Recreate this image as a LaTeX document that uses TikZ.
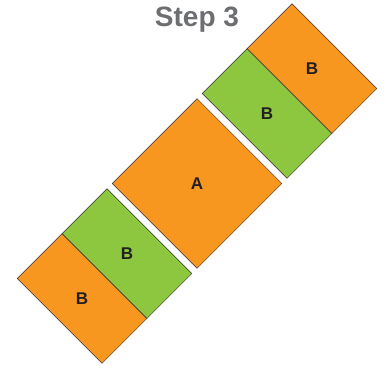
\documentclass[tikz,border=0pt]{standalone}
\usepackage{fontspec}
\setmainfont{Liberation Sans}
\usepackage{tikz}

\definecolor{blockorange}{HTML}{F7971F}
\definecolor{blockgreen}{HTML}{8DC63F}
\definecolor{titlegray}{HTML}{6D6E71}
\definecolor{labeldark}{HTML}{231F20}

\begin{document}
\begin{tikzpicture}[
  x=1pt, y=1pt,
  piece/.style={draw=black!80, line width=0.5pt},
  orangepiece/.style={piece, fill=blockorange},
  greenpiece/.style={piece, fill=blockgreen},
  lbl/.style={font=\bfseries\fontsize{17}{17}\selectfont, text=labeldark},
  heading/.style={font=\bfseries\fontsize{28}{28}\selectfont, text=titlegray, anchor=base}
]
\useasboundingbox (0,0) rectangle (390,365);
\node[heading] (title) at (197,338.5) {Step 3};

\begin{scope}[shift={(197,181.5)}, rotate=45]
  % lower pair
  \draw[orangepiece] (-194.3,-60) rectangle (-130.8,60);
  \draw[greenpiece]  (-130.8,-60) rectangle (-67.3,60);
  % middle square
  \draw[orangepiece] (-60,-60) rectangle (60,60);
  % upper pair
  \draw[greenpiece]  (67.3,-60) rectangle (130.8,60);
  \draw[orangepiece] (130.8,-60) rectangle (194.3,60);

  \node[lbl] (lowb)  at (-162.5,0) {B};
  \node[lbl] (lowg)  at (-99,0)    {B};
  \node[lbl] (mida)  at (0,0)      {A};
  \node[lbl] (upg)   at (99,0)     {B};
  \node[lbl] (upb)   at (162.5,0)  {B};
\end{scope}
\end{tikzpicture}
\end{document}
